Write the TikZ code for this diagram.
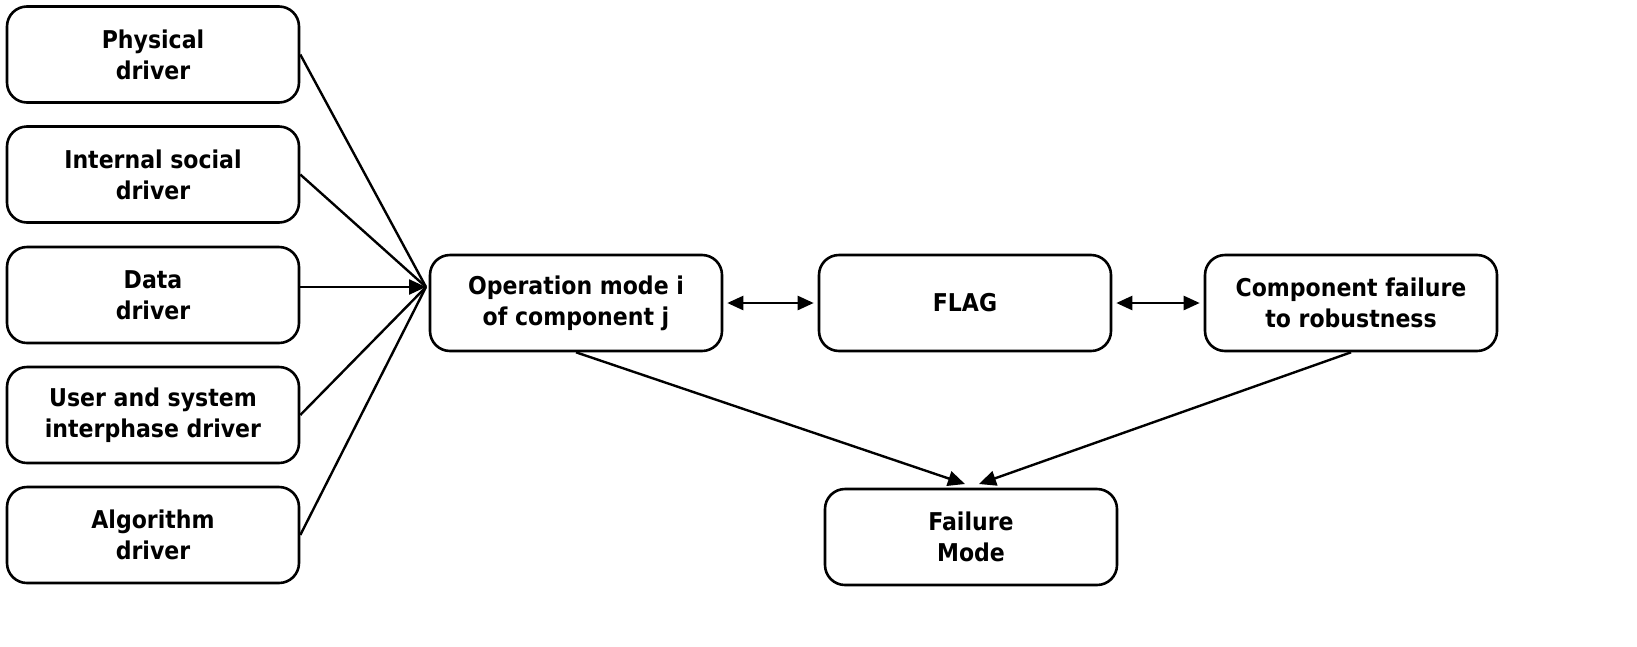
\documentclass[tikz,border=0pt]{standalone}
\usepackage{fontspec}
\setmainfont{DejaVu Sans Condensed}
\usetikzlibrary{arrows.meta}
\begin{document}
\begin{tikzpicture}[x=1pt,y=-1pt,
  box/.style={draw, line width=2.6pt, rounded corners=20pt, minimum width=292pt, minimum height=96pt,
    align=center, font=\fontsize{24.5}{31}\selectfont\bfseries, inner sep=0pt},
  con/.style={line width=2.4pt},
  arr/.style={line width=2.4pt, -{Triangle[length=17pt,width=15pt]}},
  darr/.style={line width=2.4pt, {Triangle[length=16pt,width=14pt]}-{Triangle[length=16pt,width=14pt]}, shorten <=4pt, shorten >=4pt}]
\useasboundingbox (0,0) rectangle (1637,646);
\node[box] (phys) at (153,54.5) {Physical\\driver};
\node[box] (soc) at (153,174.5) {Internal social\\driver};
\node[box] (data) at (153,295) {Data\\driver};
\node[box] (user) at (153,415) {User and system\\interphase driver};
\node[box] (alg) at (153,535) {Algorithm\\driver};
\node[box] (op) at (576,303) {Operation mode i\\of component j};
\node[box] (flag) at (965,303) {FLAG};
\node[box] (comp) at (1351,303) {Component failure\\to robustness};
\node[box] (fail) at (971,537) {Failure\\Mode};
\coordinate (cv) at (426,287);
\coordinate (f1) at (965,484);
\coordinate (f2) at (979,484);
\draw[con] (phys.east) -- (cv);
\draw[con] (soc.east) -- (cv);
\draw[con] (user.east) -- (cv);
\draw[con] (alg.east) -- (cv);
\draw[arr] (data.east |- cv) -- (cv);
\draw[darr] (op.east) -- (flag.west);
\draw[darr] (flag.east) -- (comp.west);
\draw[arr] (op.south) -- (f1);
\draw[arr] (comp.south) -- (f2);
\end{tikzpicture}
\end{document}
